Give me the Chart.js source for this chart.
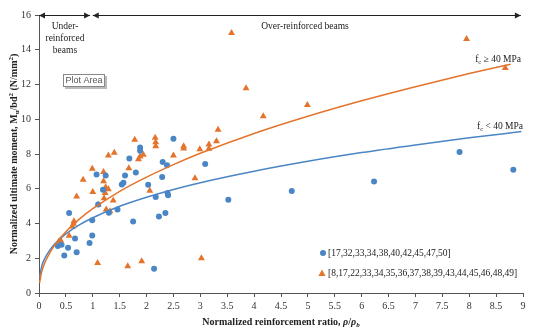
<!DOCTYPE html>
<html>
<head>
<meta charset="utf-8">
<script src="https://cdn.jsdelivr.net/npm/chart.js@4"></script>
<style>
  body { margin: 0; background: #fff; }
  #c { display: block; }
</style>
</head>
<body>
<canvas id="c" width="550" height="331"></canvas>
<script>
// fc < 40 MPa group
const blueX = [0.35, 0.42, 0.47, 0.54, 0.56, 0.67, 0.70, 0.94, 0.99, 0.99, 1.07, 1.10, 1.19, 1.24, 1.30, 1.46,
  1.54, 1.57, 1.60, 1.68, 1.75, 1.80, 1.88, 1.88, 2.03, 2.14, 2.17, 2.23, 2.29, 2.30, 2.35, 2.38, 2.39, 2.40,
  2.50, 3.09, 3.52, 4.70, 6.23, 7.82, 8.82];
const blueY = [2.70, 2.78, 2.16, 2.61, 4.60, 3.13, 2.35, 2.88, 3.31, 4.19, 6.82, 5.10, 5.94, 6.76, 4.62, 4.80,
  6.25, 6.35, 6.76, 7.74, 4.12, 6.94, 8.38, 8.19, 6.23, 1.40, 5.52, 4.41, 6.68, 7.54, 4.60, 7.35, 5.76, 5.62,
  8.88, 7.42, 5.37, 5.87, 6.42, 8.11, 7.10];

// fc >= 40 MPa group
const orangeX = [0.37, 0.40, 0.56, 0.62, 0.64, 0.65, 0.70, 0.82, 0.99, 1.00, 1.09, 1.10, 1.20, 1.20, 1.24, 1.29,
  1.23, 1.21, 1.25, 1.32, 1.38, 1.29, 1.40, 1.65, 1.67, 1.78, 1.85, 1.88, 1.94, 1.91, 2.06, 2.16, 2.17, 2.17,
  2.50, 2.69, 2.69, 2.90, 2.99, 3.02, 3.16, 3.16, 3.30, 3.33, 3.58, 3.85, 4.17, 4.99, 7.95, 8.67];
const orangeY = [2.97, 3.05, 3.30, 3.83, 3.99, 4.13, 5.56, 6.52, 7.15, 5.81, 1.73, 5.08, 6.96, 6.43, 6.08, 5.97,
  5.76, 5.45, 4.80, 4.70, 5.32, 7.92, 8.07, 1.54, 7.18, 8.82, 7.70, 7.86, 7.96, 1.83, 5.88, 8.94, 8.68, 8.44,
  7.92, 8.44, 8.32, 6.60, 8.27, 2.00, 8.54, 8.30, 8.73, 9.40, 14.96, 11.78, 10.17, 10.82, 14.62, 12.95];

// trend lines
const blueTrendX = [0.01, 0.05, 0.1, 0.2, 0.3, 0.5, 0.75, 1, 1.5, 2, 2.5, 3, 4, 5, 6, 7, 8, 8.97];
const blueTrendY = [0.87, 1.53, 1.94, 2.47, 2.85, 3.40, 3.92, 4.33, 4.99, 5.51, 5.96, 6.35, 7.01, 7.58, 8.08, 8.52, 8.93, 9.29];
const orangeTrendX = [0.01, 0.05, 0.1, 0.2, 0.3, 0.5, 0.75, 1, 1.5, 2, 2.5, 3, 4, 5, 6, 7, 8, 8.77];
const orangeTrendY = [0.58, 1.22, 1.68, 2.31, 2.79, 3.53, 4.25, 4.85, 5.85, 6.67, 7.39, 8.04, 9.18, 10.17, 11.06, 11.87, 12.63, 13.17];

const blueLabel = '[17,32,33,34,38,40,42,45,47,50]';
const orangeLabel = '[8,17,22,33,34,35,36,37,38,39,43,44,45,46,48,49]';

const BLUE = '#4a86c5';
const ORANGE = '#e4742c';
const SERIF = '"Liberation Serif", "Times New Roman", serif';

const pts = (xs, ys) => xs.map((x, i) => ({ x: x, y: ys[i] }));

function richWidth(ctx, parts) {
  let w = 0;
  parts.forEach(p => { ctx.font = p.font; w += ctx.measureText(p.t).width; });
  return w;
}
function drawRich(ctx, parts, x, y) {
  parts.forEach(p => {
    ctx.font = p.font;
    ctx.fillText(p.t, x, y + (p.dy || 0));
    x += ctx.measureText(p.t).width;
  });
}

function arrowHead(ctx, x, y, dir) {
  ctx.beginPath();
  ctx.moveTo(x, y);
  ctx.lineTo(x - dir * 6, y - 3);
  ctx.lineTo(x - dir * 6, y + 3);
  ctx.closePath();
  ctx.fill();
}

const extras = {
  id: 'extras',
  afterDraw(chart) {
    const ctx = chart.ctx;
    const xs = chart.scales.x, ys = chart.scales.y;
    ctx.save();
    ctx.fillStyle = '#222';
    ctx.strokeStyle = '#222';
    ctx.lineWidth = 1;

    // region arrows along the top
    const yt = Math.round(ys.getPixelForValue(16)) + 0.5;
    [[0, 0.95], [1.0, 8.96]].forEach(([a, b]) => {
      const x1 = xs.getPixelForValue(a), x2 = xs.getPixelForValue(b);
      ctx.beginPath(); ctx.moveTo(x1, yt); ctx.lineTo(x2, yt); ctx.stroke();
      arrowHead(ctx, x1, yt, -1);
      arrowHead(ctx, x2, yt, 1);
    });

    ctx.font = '9.5px ' + SERIF;
    ctx.textAlign = 'center';
    ctx.textBaseline = 'middle';
    ctx.fillText('Under-', 65, 26);
    ctx.fillText('reinforced', 65, 38);
    ctx.fillText('beams', 65, 50);
    ctx.fillText('Over-reinforced beams', 305, 26);

    // Plot Area tag
    ctx.fillStyle = '#bbb';
    ctx.fillRect(65, 76, 42, 13);
    ctx.fillStyle = '#fff';
    ctx.fillRect(63, 74, 42, 13);
    ctx.strokeStyle = '#888';
    ctx.strokeRect(63.5, 74.5, 41, 12);
    ctx.fillStyle = '#555';
    ctx.font = '9px "Liberation Sans", Arial, sans-serif';
    ctx.fillText('Plot Area', 84, 81);

    // curve labels
    ctx.fillStyle = '#222';
    ctx.textAlign = 'left';
    ctx.textBaseline = 'alphabetic';
    const f = '9.5px ' + SERIF, fs = '6.5px ' + SERIF;
    const lab1 = [{ t: 'f', font: f }, { t: 'c', font: fs, dy: 2 }, { t: ' \u2265 40 MPa', font: f }];
    const lab2 = [{ t: 'f', font: f }, { t: 'c', font: fs, dy: 2 }, { t: ' < 40 MPa', font: f }];
    drawRich(ctx, lab1, 521 - richWidth(ctx, lab1), 62);
    drawRich(ctx, lab2, 523 - richWidth(ctx, lab2), 129);

    // legend
    ctx.fillStyle = BLUE;
    ctx.beginPath(); ctx.arc(323, 253, 3, 0, Math.PI * 2); ctx.fill();
    ctx.fillStyle = ORANGE;
    ctx.beginPath(); ctx.moveTo(322, 269.5); ctx.lineTo(325.6, 276); ctx.lineTo(318.4, 276); ctx.closePath(); ctx.fill();
    ctx.fillStyle = '#222';
    ctx.font = '9.5px ' + SERIF;
    ctx.textBaseline = 'middle';
    ctx.fillText(blueLabel, 328, 253);
    ctx.fillText(orangeLabel, 328, 273.5);

    // axis titles
    ctx.textBaseline = 'alphabetic';
    const b = 'bold 10px ' + SERIF, bi = 'italic bold 10px ' + SERIF, bs = 'italic bold 7px ' + SERIF;
    const xt = [{ t: 'Normalized reinforcement ratio, ', font: b }, { t: '\u03c1', font: bi },
      { t: '/', font: b }, { t: '\u03c1', font: bi }, { t: 'b', font: bs, dy: 2 }];
    drawRich(ctx, xt, 281 - richWidth(ctx, xt) / 2, 325);

    const s = 'bold 7px ' + SERIF;
    const yt2 = [{ t: 'Normalized ultimate moment, M', font: b }, { t: 'u', font: s, dy: 2 },
      { t: '/bd', font: b }, { t: '2', font: s, dy: -4 }, { t: ' (N/mm', font: b }, { t: '2', font: s, dy: -4 },
      { t: ')', font: b }];
    ctx.translate(17, 154);
    ctx.rotate(-Math.PI / 2);
    drawRich(ctx, yt2, -richWidth(ctx, yt2) / 2, 0);
    ctx.restore();
  }
};

const tickFont = { family: SERIF, size: 10 };

new Chart(document.getElementById('c'), {
  type: 'scatter',
  data: {
    datasets: [
      { data: pts(orangeTrendX, orangeTrendY), showLine: true, pointRadius: 0, borderColor: ORANGE,
        borderWidth: 1.5, cubicInterpolationMode: 'monotone', fill: false },
      { data: pts(blueTrendX, blueTrendY), showLine: true, pointRadius: 0, borderColor: BLUE,
        borderWidth: 1.5, cubicInterpolationMode: 'monotone', fill: false },
      { data: pts(blueX, blueY), pointStyle: 'circle', pointRadius: 3, backgroundColor: BLUE,
        borderWidth: 0 },
      { data: pts(orangeX, orangeY), pointStyle: 'triangle', pointRadius: 4, backgroundColor: ORANGE,
        borderWidth: 0 }
    ]
  },
  options: {
    responsive: false,
    animation: false,
    layout: { padding: { top: 15, right: 27, left: 0, bottom: 0 } },
    plugins: { legend: { display: false }, tooltip: { enabled: false } },
    scales: {
      x: {
        type: 'linear', min: 0, max: 9,
        ticks: { stepSize: 0.5, font: tickFont, color: '#333', padding: 3, maxRotation: 0,
          callback: v => String(v) },
        grid: { drawOnChartArea: false, tickLength: 4, color: '#555' },
        border: { color: '#555' },
        afterFit: s => { s.height = 38; }
      },
      y: {
        min: 0, max: 16,
        ticks: { stepSize: 2, font: tickFont, color: '#333', padding: 4 },
        grid: { drawOnChartArea: false, tickLength: 4, color: '#555' },
        border: { color: '#555' },
        afterFit: s => { s.width = 39; }
      }
    }
  },
  plugins: [extras]
});
</script>
</body>
</html>
